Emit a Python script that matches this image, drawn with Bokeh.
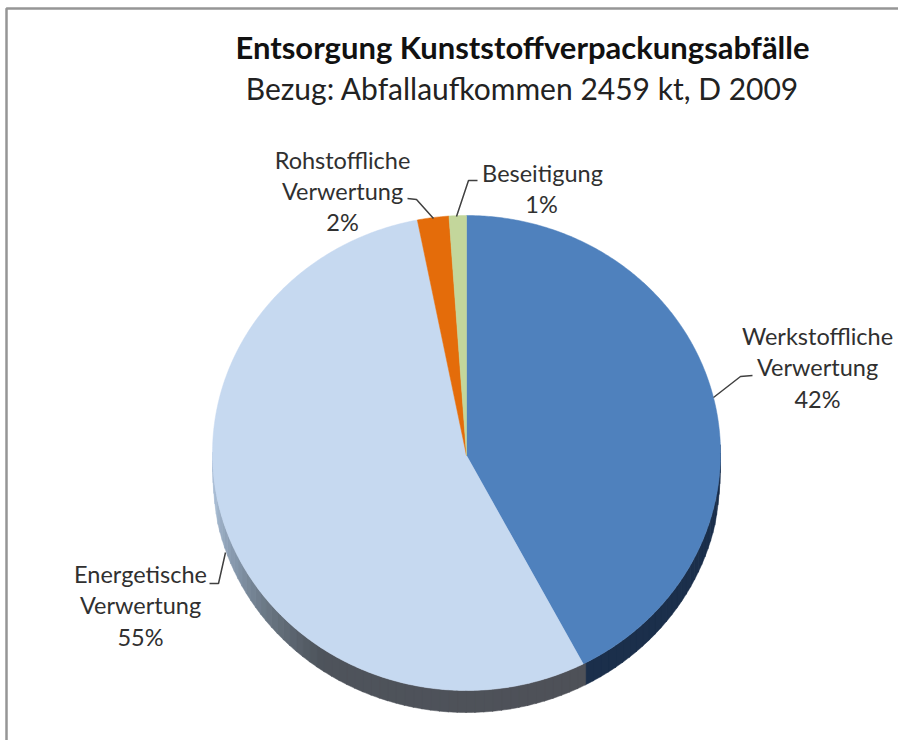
import numpy as np
from bokeh.plotting import figure
from bokeh.embed import file_html
from bokeh.resources import INLINE
from bokeh.core.properties import value

title_text = ["Entsorgung Kunststoffverpackungsabfälle"]
subtitle_text = ["Bezug: Abfallaufkommen 2459 kt, D 2009"]
categories = ["Werkstoffliche Verwertung", "Energetische Verwertung", "Rohstoffliche Verwertung", "Beseitigung"]
shares = [42.4, 54.5, 2.0, 1.1]
colors = ["#4f81bd", "#c6d9f0", "#e46c0a", "#c3d69b"]
side_stops_deg = [90, 152.6, 152.7, 215, 232, 245, 262]
side_stops_col = ["#1b2f4b", "#1b2f4b", "#4e5158", "#4e545c", "#6b7885", "#8496aa", "#a9bdd4"]

label_text = ["Rohstoffliche", "Verwertung", "2%", "Beseitigung", "1%",
              "Werkstoffliche", "Verwertung", "42%", "Energetische", "Verwertung", "55%"]
label_x = [342, 342, 342, 542, 541, 817, 817, 817, 140, 140, 140]
label_y = [159, 190, 221, 172, 203, 335, 366, 398, 573, 604, 636]

leaders_x = [[407, 416, 433], [477, 468, 456], [752, 740, 713], [209, 218, 225]]
leaders_y = [[198, 199, 218], [180, 180, 216], [375, 376, 397], [583, 583, 552]]

CX, CY, RX, RY, DEPTH = 466, 452.5, 254, 237.5, 22
APEX_Y = 455
W, H = 898, 740

p = figure(width=W, height=H, x_range=(0, W), y_range=(H, 0), output_backend="svg",
           toolbar_location=None, min_border=0, outline_line_color=None,
           margin=0)
p.axis.visible = False
p.grid.visible = False
p.background_fill_color = "#ffffff"

# frame: only left and top edges are visible
p.line([6, 6, W], [H, 8, 8], line_color="#969696", line_width=2.5)

def rim(a_deg):
    a = np.radians(a_deg)
    return CX + RX * np.sin(a), CY - RY * np.cos(a)

def hexrgb(c):
    return np.array([int(c[i:i + 2], 16) for i in (1, 3, 5)], float)

# side wall of the pie: strips from the top rim down by DEPTH
for a0 in np.arange(88, 270, 2.0):
    a1 = a0 + 2.2
    mid = a0 + 1
    rgb = [np.interp(mid, side_stops_deg, [hexrgb(c)[k] for c in side_stops_col]) for k in range(3)]
    col = "#%02x%02x%02x" % tuple(int(v) for v in rgb)
    t = np.linspace(a0, a1, 4)
    xs, ys = rim(t)
    d = DEPTH * np.clip(np.minimum(t - 88, 272 - t) / 14.0, 0, 1) ** 0.6
    p.patch(np.r_[xs, xs[::-1]], np.r_[ys, (ys + d)[::-1]], fill_color=col, line_color=col, line_width=0.5)

# top surface
edges = np.r_[0, np.cumsum(shares)] / sum(shares) * 360.0
xs_all, ys_all = [], []
for s, e in zip(edges[:-1], edges[1:]):
    t = np.linspace(s, e, max(3, int(e - s) * 2))
    x, y = rim(t)
    xs_all.append(np.r_[CX, x].tolist())
    ys_all.append(np.r_[APEX_Y, y].tolist())
p.patches(xs_all, ys_all, fill_color=colors, line_color=colors, line_width=0.5)

# leader lines
p.multi_line(leaders_x, leaders_y, line_color="#404040", line_width=1.5)

# texts
p.text([522], [46], text=title_text, text_font=value("Lato"), text_align="center",
       text_baseline="middle", text_color="#111111", text_font_size="31px",
       text_font_style="bold")
p.text([522], [87], text=subtitle_text, text_font=value("Lato"), text_align="center",
       text_baseline="middle", text_color="#222222", text_font_size="30px")
p.text(label_x, label_y, text=label_text, text_font=value("Lato"), text_align="center",
       text_baseline="middle", text_color="#303030", text_font_size="23.5px")

open("out.html", "w").write(file_html(p, INLINE))
